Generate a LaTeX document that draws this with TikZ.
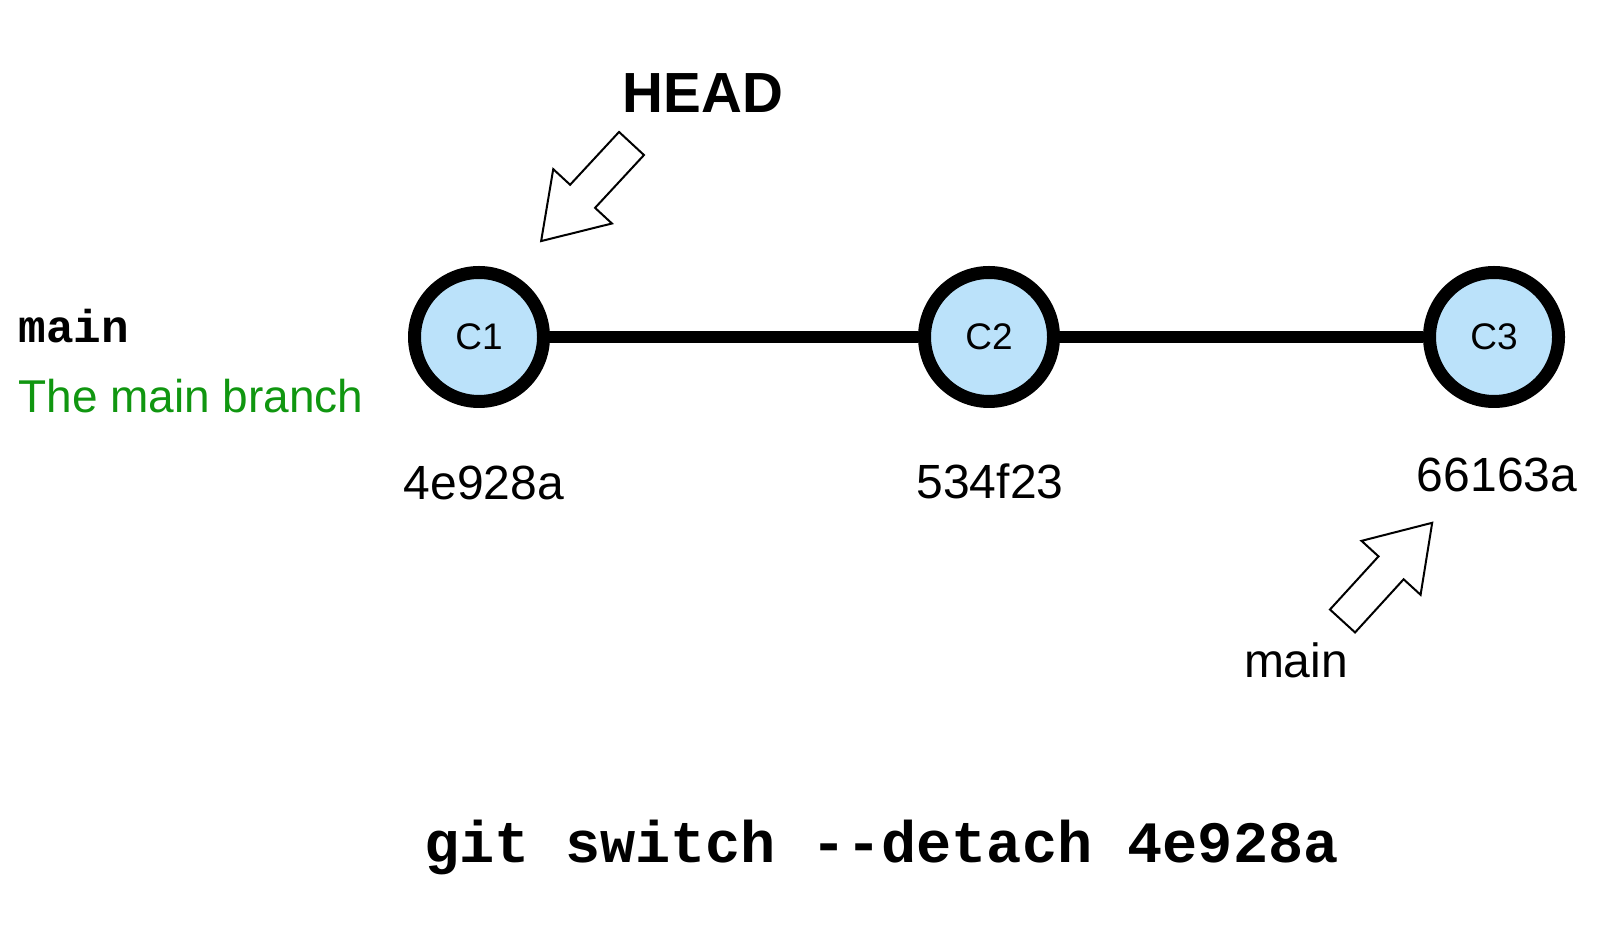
\documentclass[tikz,border=0pt]{standalone}
\usepackage{fontspec}
\setmainfont{Liberation Sans}
\setmonofont{Liberation Mono}
\usepackage{tikz}
\usetikzlibrary{
    arrows.meta,
    positioning,
    calc
}
\definecolor{commitblue}{RGB}{187,226,250}
\definecolor{branchgreen}{RGB}{16,150,16}
\tikzset{
    commit/.style={
        draw,
        circle,
        line width=6.5pt,
        minimum size=64.5pt,
        inner sep=0pt,
        fill=commitblue,
        font=\fontsize{18.5}{22}\selectfont
    },
    hashlab/.style={
        anchor=base,
        inner sep=0pt,
        font=\fontsize{24}{28}\selectfont
    },
    monolab/.style={
        anchor=base west,
        inner sep=0pt,
        font=\ttfamily\bfseries
    },
    blockarrow/.pic={
        \draw[line width=1pt, fill=white, line join=miter]
            (0,-17) -- (72,-17) -- (72,-40) -- (133,0) -- (72,40) -- (72,17) -- (0,17) -- cycle;
    }
}

\begin{document}
\begin{tikzpicture}[
    x=0.5pt,
    y=-0.5pt,
    link/.style={
        line width=6.3pt
    }
]
\useasboundingbox (0,0) rectangle (1620,929);

\node[commit] (c1) at (479,337) {C1};
\node[commit, right=184pt of c1] (c2) {C2};
\node[commit, right=181.5pt of c2] (c3) {C3};

\draw[link] (c1) -- (c2);
\draw[link] (c2) -- (c3);

\node[hashlab] (h1) at (484,500) {4e928a};
\node[hashlab] (h2) at (990,499) {534f23};
\node[hashlab] (h3) at (1497,492) {66163a};

\node[anchor=base, inner sep=0pt, font=\bfseries\fontsize{28.3}{32}\selectfont] (head) at (703,113) {HEAD};
\pic[rotate=227.2] at (631.5,143.5) {blockarrow};

\node[hashlab] (mainlab) at (1296,677) {main};
\pic[rotate=47.6] at (1342.5,621) {blockarrow};

\node[monolab, font=\ttfamily\bfseries\fontsize{23}{26}\selectfont] (branch) at (18,343) {main};
\node[anchor=base west, inner sep=0pt, text=branchgreen, font=\fontsize{23}{26}\selectfont] (desc) at (18,413) {The main branch};

\node[monolab, font=\ttfamily\bfseries\fontsize{29.3}{33}\selectfont] (cmd) at (424,862) {git switch --detach 4e928a};

\end{tikzpicture}
\end{document}
